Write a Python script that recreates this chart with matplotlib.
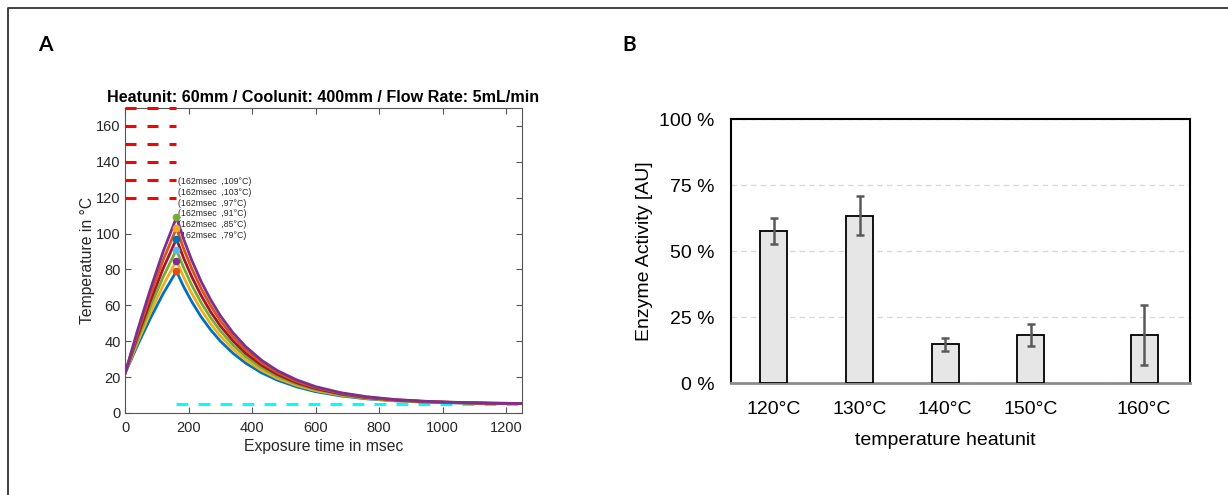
import matplotlib
matplotlib.use('Agg')
import matplotlib.pyplot as plt
from matplotlib.lines import Line2D

plt.rcParams['font.family'] = ['Liberation Sans', 'DejaVu Sans']

# ---------------- Panel A data ----------------
heat_time = [0, 40, 80, 120, 162]
cool_time = [162, 185, 210, 240, 270, 300, 340, 380, 430, 480, 540, 600,
             680, 760, 850, 950, 1050, 1150, 1250]
peak_time = 162
peak_temps = [79, 85, 91, 97, 103, 109]
setpoints = [120, 130, 140, 150, 160, 170]
coolant_temp = 5

heat_temps = [
    [22, 38.0, 52.8, 66.5, 79],
    [22, 39.6, 56.0, 71.1, 85],
    [22, 41.3, 59.3, 75.8, 91],
    [22, 43.0, 62.5, 80.5, 97],
    [22, 44.7, 65.7, 85.2, 103],
    [22, 46.4, 69.0, 89.9, 109],
]
cool_temps = [
    [79, 70.3, 62.1, 53.5, 46.3, 40.1, 33.3, 27.8, 22.4, 18.3, 14.6, 11.9, 9.5, 7.9, 6.8, 6.0, 5.6, 5.35, 5.2],
    [85, 75.6, 66.7, 57.5, 49.6, 42.9, 35.6, 29.6, 23.8, 19.3, 15.4, 12.5, 9.9, 8.2, 6.9, 6.1, 5.7, 5.4, 5.2],
    [91, 80.9, 71.3, 61.4, 53.0, 45.8, 37.9, 31.5, 25.2, 20.4, 16.1, 13.1, 10.2, 8.4, 7.1, 6.2, 5.7, 5.4, 5.2],
    [97, 86.2, 76.0, 65.4, 56.3, 48.6, 40.2, 33.3, 26.6, 21.5, 16.9, 13.6, 10.6, 8.6, 7.2, 6.3, 5.8, 5.4, 5.3],
    [103, 91.5, 80.6, 69.3, 59.7, 51.5, 42.4, 35.2, 28.0, 22.6, 17.7, 14.2, 11.0, 8.9, 7.4, 6.4, 5.8, 5.5, 5.3],
    [109, 96.8, 85.2, 73.2, 63.0, 54.3, 44.7, 37.0, 29.4, 23.6, 18.5, 14.7, 11.3, 9.1, 7.5, 6.5, 5.9, 5.5, 5.3],
]

# ---------------- Panel B data ----------------
categories = ['120°C', '130°C', '140°C', '150°C', '160°C']
activity = [57.6, 63.4, 14.6, 18.2, 18.2]
activity_err = [5.0, 7.3, 2.6, 4.2, 11.3]
bar_slots = [0, 1, 2, 3, 4.32]
ytick_vals = [0, 25, 50, 75, 100]

# ---------------- Styles ----------------
line_colors = ['#0072BD', '#EDB120', '#77AC30', '#A2142F', '#D95319', '#7E2F8E']
marker_colors = ['#D95319', '#7E2F8E', '#4DBEEE', '#0072BD', '#EDB120', '#77AC30']
txt_col = '#262626'
ax_col = '#555555'

fig = plt.figure(figsize=(12.28, 4.95), dpi=100)

# ---------------- Panel A ----------------
axA = fig.add_axes([125/1228, 1-413/495, 397/1228, 305/495])
for sp in setpoints:
    axA.plot([0, peak_time], [sp, sp], color='red', lw=2.2, dashes=(3.6, 3.6),
             clip_on=False, zorder=3)
axA.plot([peak_time, 1250], [coolant_temp, coolant_temp], color='cyan', lw=2.2,
         dashes=(3.9, 3.3), zorder=2)

for i in range(len(peak_temps)):
    t = heat_time + cool_time[1:]
    T = heat_temps[i] + cool_temps[i][1:]
    axA.plot(t, T, color=line_colors[i], lw=2.0, zorder=4)
for i, p in enumerate(peak_temps):
    axA.plot([peak_time], [p], 'o', color=marker_colors[i], ms=4.5, zorder=5)
    axA.text(peak_time + 4, p + 20, f'(162msec  ,{p}°C)', fontsize=6.3,
             color=txt_col, ha='left', va='center', zorder=1)

axA.set_xlim(0, 1250)
axA.set_ylim(0, 170)
axA.set_xticks(range(0, 1201, 200))
axA.set_yticks(range(0, 161, 20))
axA.tick_params(direction='in', top=True, right=True, length=4, width=0.8,
                color=ax_col, labelcolor=txt_col, labelsize=10.5)
axA.tick_params(axis='x', pad=6)
axA.tick_params(axis='y', pad=3)
for s in axA.spines.values():
    s.set_color(ax_col)
    s.set_linewidth(0.8)
axA.set_title('Heatunit: 60mm / Coolunit: 400mm / Flow Rate: 5mL/min',
              fontsize=11.6, fontweight='bold', color='black', pad=4)
axA.set_xlabel('Exposure time in msec', fontsize=11.3, color=txt_col, labelpad=3)
axA.set_ylabel('Temperature in °C', fontsize=11.3, color=txt_col, labelpad=1)

# ---------------- Panel B ----------------
axB = fig.add_axes([731/1228, 1-383/495, 459/1228, 264/495])
axB.bar(bar_slots, activity, width=0.315, color='#e6e6e6', edgecolor='black',
        linewidth=1.3, zorder=3)
axB.errorbar(bar_slots, activity, yerr=activity_err, fmt='none', ecolor='#595959',
             elinewidth=1.8, capsize=3, capthick=1.8, zorder=4)
axB.set_xlim(-0.5, 4.856)
axB.set_ylim(0, 100)
axB.set_yticks(ytick_vals)
axB.set_yticklabels([f'{v} %' for v in ytick_vals])
axB.set_xticks(bar_slots)
axB.set_xticklabels(categories)
axB.yaxis.grid(True, linestyle=(0, (4, 3)), color='#d9d9d9', lw=1.0, zorder=0)
axB.set_axisbelow(True)
axB.tick_params(length=0, labelsize=14, labelcolor='black')
axB.tick_params(axis='y', pad=12)
axB.tick_params(axis='x', pad=13)
for k in ['left', 'top', 'right']:
    axB.spines[k].set_color('black')
    axB.spines[k].set_linewidth(1.5)
axB.spines['bottom'].set_color('#8c8c8c')
axB.spines['bottom'].set_linewidth(2)
axB.set_ylabel('Enzyme Activity [AU]', fontsize=14, labelpad=4)
axB.set_xlabel('temperature heatunit', fontsize=14)
axB.xaxis.set_label_coords((945-731)/459, -0.185)

# ---------------- Frame & letters ----------------
fig.add_artist(Line2D([8/1228, 8/1228, 1.0], [0.0, 1-8/495, 1-8/495],
                      transform=fig.transFigure, color='#333333', lw=1.3))
fig.text(38/1228, 1-45/495, 'A', fontsize=15, fontweight='bold',
         family=['Lato', 'DejaVu Sans'], va='center', ha='left')
fig.text(622/1228, 1-45/495, 'B', fontsize=15, fontweight='bold',
         family=['Lato', 'DejaVu Sans'], va='center', ha='left')

fig.savefig('out.png', dpi=100)
